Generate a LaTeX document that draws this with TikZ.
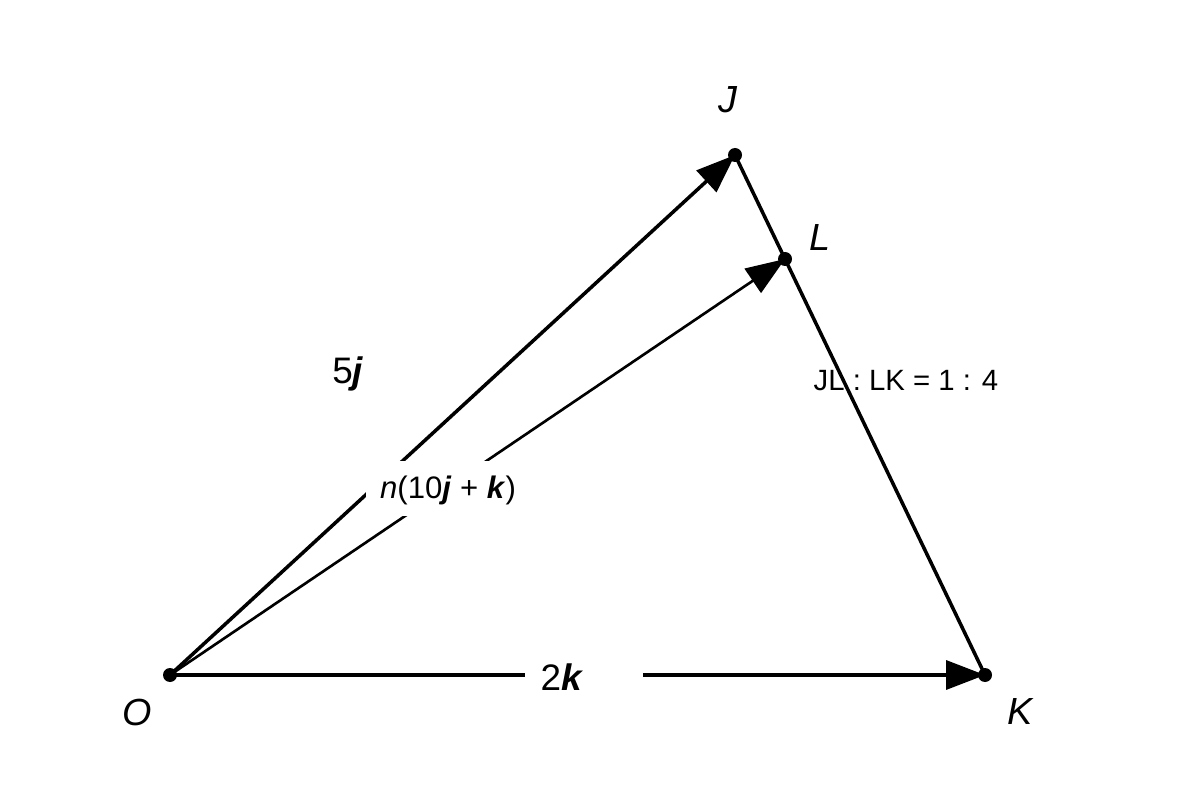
\documentclass[tikz,border=0pt]{standalone}
\usepackage{fontspec}
\setmainfont{Liberation Sans}
\usetikzlibrary{arrows.meta}
\begin{document}
\begin{tikzpicture}[x=0.02cm,y=-0.02cm,
  pt/.style={circle,fill=black,inner sep=0pt,minimum size=0.28cm},
  vec/.style={line width=2pt,-{Triangle[length=0.78cm,width=0.58cm]}},
  seg/.style={line width=2pt},
  ptlabel/.style={font=\fontsize{21.5}{25}\selectfont\itshape},
  veclabel/.style={font=\fontsize{21}{24}\selectfont},
  mask/.style={fill=white,inner sep=0pt}]
\useasboundingbox (0,0) rectangle (1200,800);
\coordinate (O) at (170,675);
\coordinate (J) at (735,155);
\coordinate (L) at (785,259);
\coordinate (K) at (985,675);
% lines
\draw[vec] (O) -- (J);
\draw[vec,line width=1.5pt] (O) -- (L);
\draw[seg] (J) -- (K);
\draw[vec] (O) -- (K);
% dots
\node[pt] (Od) at (O) {};
\node[pt] (Jd) at (J) {};
\node[pt] (Ld) at (L) {};
\node[pt] (Kd) at (K) {};
% point labels
\node[ptlabel] (Jl) at (728,100) {J};
\node[ptlabel] (Ll) at (820,238) {L};
\node[ptlabel] (Ol) at (137,712) {O};
\node[ptlabel] (Kl) at (1020,712) {K};
% vector labels
\node[veclabel] (lab5j) at (348,374) {5\textbf{\textit{j}}};
\node[mask,minimum width=165*0.02cm,minimum height=55*0.02cm] (mn) at (448,488) {};
\node[font=\fontsize{17.7}{21}\selectfont] (lab10) at (448,490) {\textit{n}(10\textbf{\textit{j}} + \textbf{\textit{k}})};
\node[mask,minimum width=118*0.02cm,minimum height=20*0.02cm] (m2k) at (584,675) {};
\node[veclabel] (lab2k) at (562,677) {2\textbf{\textit{k}}};
\node[font=\fontsize{16.7}{20}\selectfont] (ratio) at (906,381) {JL : LK = 1 : 4};
\end{tikzpicture}
\end{document}
